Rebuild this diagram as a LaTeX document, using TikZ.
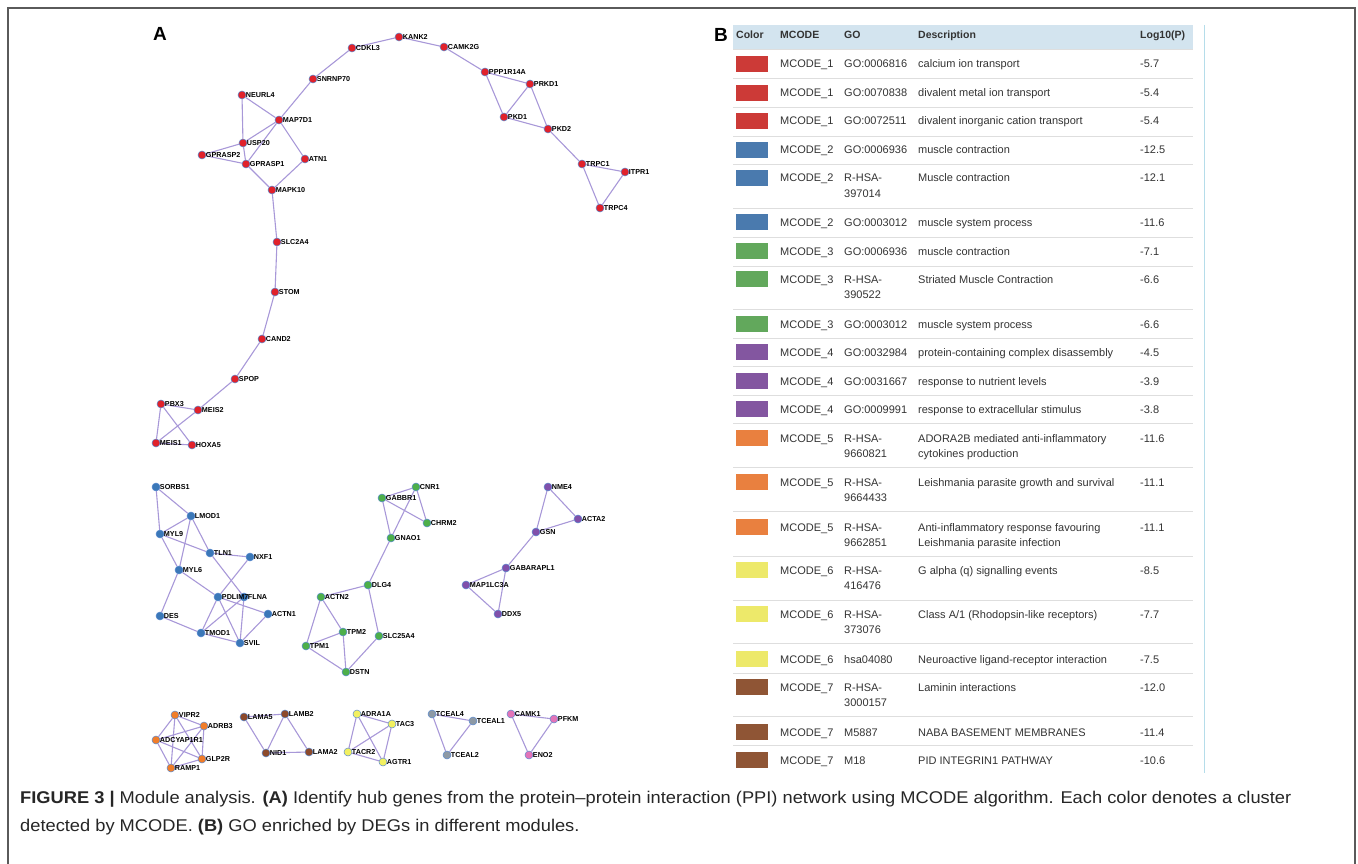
\documentclass[tikz,border=0pt]{standalone}
\usepackage{fontspec}
\setmainfont{Liberation Sans}
\newfontfamily\capfont[FakeStretch=1.075]{Liberation Sans}
\usetikzlibrary{backgrounds}
\definecolor{nred}{HTML}{E0222B}
\definecolor{nblue}{HTML}{3B78B8}
\definecolor{ngreen}{HTML}{4DAF4A}
\definecolor{npurple}{HTML}{8050AA}
\definecolor{norange}{HTML}{F07D2A}
\definecolor{nbrown}{HTML}{8C4A2B}
\definecolor{nyellow}{HTML}{F2F060}
\definecolor{ngray}{HTML}{8D99A5}
\definecolor{npink}{HTML}{E274B8}
\definecolor{edgecol}{HTML}{A898D8}
\definecolor{dotrim}{HTML}{5B8BD0}
\definecolor{sred}{HTML}{CC3A37}
\definecolor{sblue}{HTML}{4A7AAE}
\definecolor{sgreen}{HTML}{62A85C}
\definecolor{spurple}{HTML}{8356A0}
\definecolor{sorange}{HTML}{E9803F}
\definecolor{syellow}{HTML}{EDE96A}
\definecolor{sbrown}{HTML}{8F5535}
\definecolor{headbg}{HTML}{D3E4EF}
\definecolor{rowline}{HTML}{DEDEDE}
\definecolor{tabtext}{HTML}{333333}
\definecolor{vline}{HTML}{B5DDEA}
\definecolor{framecol}{HTML}{5A5A5A}
\newcommand\gn[4]{\node[gene, fill=#4, label={[glab]0:#1}] (#1) at (#2,#3) {};}
\newcommand\trow[9]{%
  \node[swatch, fill=#3] (sw#1) at (752,#2) {};
  \node[tcell] (mc#1) at (780,#2+4) {#4};
  \node[tcell] (go#1) at (844,#2+4) {#5};
  \node[tcell] (de#1) at (918,#2+4) {#7};
  \node[tcell] (lp#1) at (1140,#2+4) {#9};
  \if\relax\detokenize{#6}\relax\else\node[tcell] (gob#1) at (844,#2+19.5) {#6};\fi
  \if\relax\detokenize{#8}\relax\else\node[tcell] (deb#1) at (918,#2+19.5) {#8};\fi
}
\begin{document}
\begin{tikzpicture}[x=1pt,y=-1pt,
  gene/.style={circle, minimum size=8pt, inner sep=0pt, draw=dotrim, line width=0.5pt},
  glab/.style={font=\bfseries\fontsize{7.2}{8}\selectfont, inner sep=0.3pt, label distance=-0.8pt, text=black},
  edge/.style={draw=edgecol, line width=1.1pt},
  swatch/.style={rectangle, minimum width=32pt, minimum height=16pt, inner sep=0pt},
  tcell/.style={anchor=base west, inner sep=0pt, text=tabtext, font=\fontsize{11}{13}\selectfont},
  thead/.style={anchor=base west, inner sep=0pt, text=tabtext, font=\bfseries\fontsize{10.5}{12}\selectfont},
  sepline/.style={draw=rowline, line width=0.9pt},
  panel/.style={font=\bfseries\fontsize{19}{20}\selectfont, inner sep=0pt},
  capt/.style={anchor=base west, inner sep=0pt, font=\capfont\fontsize{17}{20}\selectfont, text=black!85}
]
\useasboundingbox (0,0) rectangle (1358,864);
% frame
\draw[framecol, line width=1.3pt] (8,864) -- (8,8) -- (1355,8) -- (1355,864);

% panel labels
\node[panel] (labA) at (160,34) {A};
\node[panel] (labB) at (721,35) {B};

% ---------- MCODE 1 (red)
\gn{KANK2}{399}{37}{nred}
\gn{CDKL3}{352}{48}{nred}
\gn{CAMK2G}{444}{47}{nred}
\gn{SNRNP70}{313}{79}{nred}
\gn{PPP1R14A}{485}{72}{nred}
\gn{PRKD1}{530}{84}{nred}
\gn{NEURL4}{242}{95}{nred}
\gn{MAP7D1}{279}{120}{nred}
\gn{PKD1}{504}{117}{nred}
\gn{PKD2}{548}{129}{nred}
\gn{USP20}{243}{143}{nred}
\gn{GPRASP2}{202}{155}{nred}
\gn{GPRASP1}{246}{164}{nred}
\gn{ATN1}{305}{159}{nred}
\gn{MAPK10}{272}{190}{nred}
\gn{TRPC1}{582}{164}{nred}
\gn{ITPR1}{625}{172}{nred}
\gn{TRPC4}{600}{208}{nred}
\gn{SLC2A4}{277}{242}{nred}
\gn{STOM}{275}{292}{nred}
\gn{CAND2}{262}{339}{nred}
\gn{SPOP}{235}{379}{nred}
\gn{PBX3}{161}{404}{nred}
\gn{MEIS2}{198}{410}{nred}
\gn{MEIS1}{156}{443}{nred}
\gn{HOXA5}{192}{445}{nred}
% ---------- MCODE 2 (blue)
\gn{SORBS1}{156}{487}{nblue}
\gn{LMOD1}{191}{516}{nblue}
\gn{MYL9}{160}{534}{nblue}
\gn{TLN1}{210}{553}{nblue}
\gn{NXF1}{250}{557}{nblue}
\gn{MYL6}{179}{570}{nblue}
\gn{FLNA}{244}{597}{nblue}
\gn{PDLIM7}{218}{597}{nblue}
\gn{DES}{160}{616}{nblue}
\gn{ACTN1}{268}{614}{nblue}
\gn{TMOD1}{201}{633}{nblue}
\gn{SVIL}{240}{643}{nblue}
% ---------- MCODE 3 (green)
\gn{CNR1}{416}{487}{ngreen}
\gn{GABBR1}{382}{498}{ngreen}
\gn{CHRM2}{427}{523}{ngreen}
\gn{GNAO1}{391}{538}{ngreen}
\gn{DLG4}{368}{585}{ngreen}
\gn{ACTN2}{321}{597}{ngreen}
\gn{TPM2}{343}{632}{ngreen}
\gn{SLC25A4}{379}{636}{ngreen}
\gn{TPM1}{306}{646}{ngreen}
\gn{DSTN}{346}{672}{ngreen}
% ---------- MCODE 4 (purple)
\gn{NME4}{548}{487}{npurple}
\gn{ACTA2}{578}{519}{npurple}
\gn{GSN}{536}{532}{npurple}
\gn{GABARAPL1}{506}{568}{npurple}
\gn{MAP1LC3A}{466}{585}{npurple}
\gn{DDX5}{498}{614}{npurple}
% ---------- MCODE 5 (orange)
\gn{VIPR2}{175}{715}{norange}
\gn{ADRB3}{204}{726}{norange}
\gn{ADCYAP1R1}{156}{740}{norange}
\gn{GLP2R}{202}{759}{norange}
\gn{RAMP1}{171}{768}{norange}
% ---------- MCODE 7 (brown)
\gn{LAMA5}{244}{717}{nbrown}
\gn{LAMB2}{285}{714}{nbrown}
\gn{NID1}{266}{753}{nbrown}
\gn{LAMA2}{309}{752}{nbrown}
% ---------- MCODE 6 (yellow)
\gn{ADRA1A}{357}{714}{nyellow}
\gn{TAC3}{392}{724}{nyellow}
\gn{TACR2}{348}{752}{nyellow}
\gn{AGTR1}{383}{762}{nyellow}
% ---------- gray
\gn{TCEAL4}{432}{714}{ngray}
\gn{TCEAL1}{473}{721}{ngray}
\gn{TCEAL2}{447}{755}{ngray}
% ---------- pink
\gn{CAMK1}{511}{714}{npink}
\gn{PFKM}{554}{719}{npink}
\gn{ENO2}{529}{755}{npink}

\begin{pgfonlayer}{background}
\foreach \a/\b in {
  CDKL3/KANK2, KANK2/CAMK2G, CAMK2G/PPP1R14A, CDKL3/SNRNP70, SNRNP70/MAP7D1,
  NEURL4/MAP7D1, NEURL4/USP20, MAP7D1/USP20, MAP7D1/GPRASP1, MAP7D1/ATN1,
  USP20/GPRASP2, USP20/GPRASP1, GPRASP2/GPRASP1, GPRASP1/MAPK10, ATN1/MAPK10,
  PPP1R14A/PRKD1, PPP1R14A/PKD1, PRKD1/PKD1, PRKD1/PKD2, PKD1/PKD2, PKD2/TRPC1,
  TRPC1/ITPR1, TRPC1/TRPC4, ITPR1/TRPC4,
  MAPK10/SLC2A4, SLC2A4/STOM, STOM/CAND2, CAND2/SPOP, SPOP/MEIS2,
  PBX3/MEIS2, PBX3/MEIS1, PBX3/HOXA5, MEIS2/MEIS1, MEIS1/HOXA5,
  SORBS1/LMOD1, SORBS1/MYL9, LMOD1/MYL9, LMOD1/TLN1, LMOD1/MYL6, MYL9/TLN1, MYL9/MYL6,
  TLN1/NXF1, TLN1/FLNA, NXF1/PDLIM7, MYL6/PDLIM7, MYL6/DES, DES/TMOD1, TMOD1/SVIL,
  PDLIM7/TMOD1, PDLIM7/SVIL, PDLIM7/ACTN1, FLNA/TMOD1, FLNA/SVIL, ACTN1/SVIL,
  CNR1/GABBR1, CNR1/CHRM2, CNR1/GNAO1, GABBR1/CHRM2, GABBR1/GNAO1, GNAO1/DLG4,
  DLG4/ACTN2, DLG4/SLC25A4, ACTN2/TPM2, ACTN2/TPM1, TPM1/TPM2, TPM2/DSTN, TPM1/DSTN, SLC25A4/DSTN,
  NME4/ACTA2, NME4/GSN, GSN/ACTA2, GSN/GABARAPL1, GABARAPL1/MAP1LC3A, GABARAPL1/DDX5, MAP1LC3A/DDX5,
  VIPR2/ADRB3, VIPR2/ADCYAP1R1, VIPR2/GLP2R, VIPR2/RAMP1, ADRB3/ADCYAP1R1, ADRB3/GLP2R, ADRB3/RAMP1,
  ADCYAP1R1/GLP2R, ADCYAP1R1/RAMP1, GLP2R/RAMP1,
  LAMA5/LAMB2, LAMA5/NID1, LAMB2/NID1, LAMB2/LAMA2, NID1/LAMA2,
  ADRA1A/TAC3, ADRA1A/TACR2, ADRA1A/AGTR1, TAC3/TACR2, TAC3/AGTR1, TACR2/AGTR1,
  TCEAL4/TCEAL1, TCEAL4/TCEAL2, TCEAL1/TCEAL2,
  CAMK1/PFKM, CAMK1/ENO2, PFKM/ENO2}
  \draw[edge] (\a) -- (\b);
\end{pgfonlayer}

% ---------- table
\fill[headbg] (733,25) rectangle (1193,49);
\draw[vline, line width=1pt] (1204,25) -- (1204,773);
\node[thead] (hColor) at (736,39) {Color};
\node[thead] (hMcode) at (780,39) {MCODE};
\node[thead] (hGo) at (844,39) {GO};
\node[thead] (hDesc) at (918,39) {Description};
\node[thead] (hLog) at (1140,39) {Log10(P)};
\foreach \yy in {49,78,107,136,164,208,237,266,309,338,366,395,423,467,511,556,600,643,673,716,745}
  \draw[sepline] (733,\yy) -- (1193,\yy);

\trow{1}{64}{sred}{MCODE\_1}{GO:0006816}{}{calcium ion transport}{}{-5.7}
\trow{2}{93}{sred}{MCODE\_1}{GO:0070838}{}{divalent metal ion transport}{}{-5.4}
\trow{3}{121}{sred}{MCODE\_1}{GO:0072511}{}{divalent inorganic cation transport}{}{-5.4}
\trow{4}{150}{sblue}{MCODE\_2}{GO:0006936}{}{muscle contraction}{}{-12.5}
\trow{5}{178}{sblue}{MCODE\_2}{R-HSA-}{397014}{Muscle contraction}{}{-12.1}
\trow{6}{222}{sblue}{MCODE\_2}{GO:0003012}{}{muscle system process}{}{-11.6}
\trow{7}{251}{sgreen}{MCODE\_3}{GO:0006936}{}{muscle contraction}{}{-7.1}
\trow{8}{279}{sgreen}{MCODE\_3}{R-HSA-}{390522}{Striated Muscle Contraction}{}{-6.6}
\trow{9}{324}{sgreen}{MCODE\_3}{GO:0003012}{}{muscle system process}{}{-6.6}
\trow{10}{352}{spurple}{MCODE\_4}{GO:0032984}{}{protein-containing complex disassembly}{}{-4.5}
\trow{11}{381}{spurple}{MCODE\_4}{GO:0031667}{}{response to nutrient levels}{}{-3.9}
\trow{12}{409}{spurple}{MCODE\_4}{GO:0009991}{}{response to extracellular stimulus}{}{-3.8}
\trow{13}{438}{sorange}{MCODE\_5}{R-HSA-}{9660821}{ADORA2B mediated anti-inflammatory}{cytokines production}{-11.6}
\trow{14}{482}{sorange}{MCODE\_5}{R-HSA-}{9664433}{Leishmania parasite growth and survival}{}{-11.1}
\trow{15}{527}{sorange}{MCODE\_5}{R-HSA-}{9662851}{Anti-inflammatory response favouring}{Leishmania parasite infection}{-11.1}
\trow{16}{570}{syellow}{MCODE\_6}{R-HSA-}{416476}{G alpha (q) signalling events}{}{-8.5}
\trow{17}{614}{syellow}{MCODE\_6}{R-HSA-}{373076}{Class A/1 (Rhodopsin-like receptors)}{}{-7.7}
\trow{18}{659}{syellow}{MCODE\_6}{hsa04080}{}{Neuroactive ligand-receptor interaction}{}{-7.5}
\trow{19}{687}{sbrown}{MCODE\_7}{R-HSA-}{3000157}{Laminin interactions}{}{-12.0}
\trow{20}{732}{sbrown}{MCODE\_7}{M5887}{}{NABA BASEMENT MEMBRANES}{}{-11.4}
\trow{21}{760}{sbrown}{MCODE\_7}{M18}{}{PID INTEGRIN1 PATHWAY}{}{-10.6}

% ---------- caption
\node[capt] (cap1) at (20,803)
  {\textbf{FIGURE 3 |} Module analysis. \textbf{(A)} Identify hub genes from the protein–protein interaction (PPI) network using MCODE algorithm. Each color denotes a cluster};
\node[capt] (cap2) at (20,831)
  {detected by MCODE. \textbf{(B)} GO enriched by DEGs in different modules.};
\end{tikzpicture}
\end{document}
